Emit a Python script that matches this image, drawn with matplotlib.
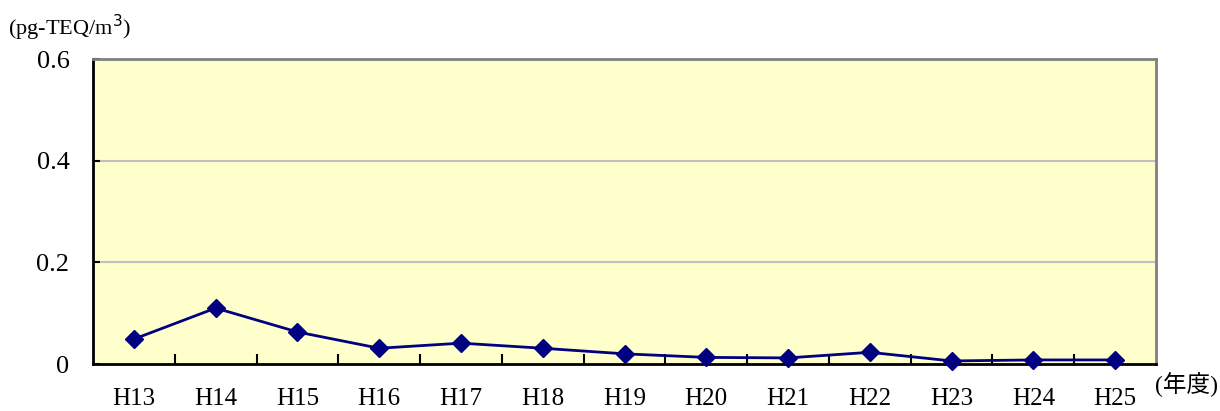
import matplotlib
matplotlib.use("Agg")
import matplotlib.pyplot as plt
import numpy as np

years = ["H13", "H14", "H15", "H16", "H17", "H18", "H19",
         "H20", "H21", "H22", "H23", "H24", "H25"]
values = [0.049, 0.110, 0.063, 0.031, 0.041, 0.031, 0.020,
          0.013, 0.012, 0.023, 0.006, 0.008, 0.008]
yticks = [0, 0.2, 0.4, 0.6]
ylabels = ["0", "0.2", "0.4", "0.6"]

plt.rcParams['font.family'] = ['Liberation Serif', 'Noto Sans CJK JP']

fig = plt.figure(figsize=(12.2, 4.11), dpi=100)
ax = fig.add_axes([93/1220, 1 - 364/411, (1156-93)/1220, (364-59)/411])
ax.set_facecolor("#FFFFCC")

x = np.arange(len(years))
ax.plot(x, values, color="#000080", lw=2, marker="D", ms=9, zorder=3, clip_on=False)

ax.set_xlim(-0.5, len(years) - 0.5)
ax.set_ylim(0, 0.6)
ax.set_yticks(yticks)
ax.set_yticklabels(ylabels, fontsize=19)
ax.set_xticks(x)
ax.set_xticklabels(years, fontsize=18)
ax.set_xticks(np.arange(0.5, len(years) - 1, 1), minor=True)
ax.tick_params(axis="x", which="major", length=0, pad=17)
ax.tick_params(axis="x", which="minor", direction="in", length=7, width=1.5, color="black")
ax.tick_params(axis="y", direction="in", length=5, width=1.5, pad=17)

for yv in yticks[1:-1]:
    ax.axhline(yv, color="#c0c0c0", lw=1.5, zorder=1)

ax.spines["left"].set_linewidth(2)
ax.spines["bottom"].set_linewidth(2)
ax.spines["top"].set_color("#808080")
ax.spines["right"].set_color("#808080")
ax.spines["top"].set_linewidth(2)
ax.spines["right"].set_linewidth(2)

fig.text(8/1220, 1 - 35/411, "(pg-TEQ/m$^{3}$)", fontsize=16, va="baseline",
         family="Liberation Serif")
fig.text(1218/1220, 1 - 392/411, "(年度)", fontsize=17, va="baseline", ha="right",
         family=["Liberation Serif", "Noto Sans CJK JP"])

fig.savefig("out.png", dpi=100)
